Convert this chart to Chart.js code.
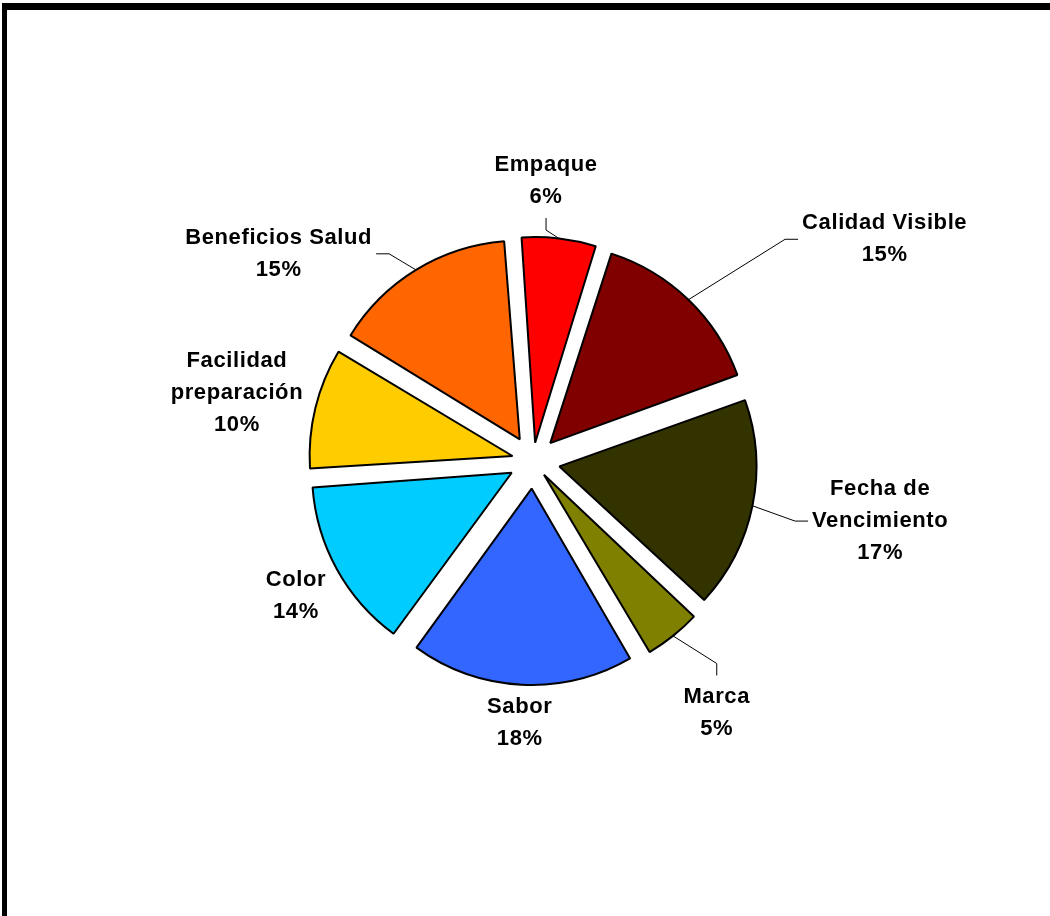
<!DOCTYPE html>
<html>
<head>
<meta charset="utf-8">
<script src="https://cdn.jsdelivr.net/npm/chart.js@4.4.1/dist/chart.umd.min.js"></script>
<style>
  html, body { margin: 0; padding: 0; background: #fff; overflow: hidden; }
  #frame { position: absolute; left: 2px; top: 3px; width: 1100px; height: 1000px; border-top: 7px solid #000; border-left: 5px solid #000; }
  #chart { position: absolute; left: 0; top: 0; }
</style>
</head>
<body>
<div id="frame"></div>
<canvas id="chart" width="1050" height="916"></canvas>
<script>
  // categorias y porcentajes
  const categories = ['Empaque', 'Calidad Visible', 'Fecha de Vencimiento', 'Marca', 'Sabor', 'Color', 'Facilidad preparación', 'Beneficios Salud'];
  const values = [6.1, 14.6, 17.4, 4.7, 18.4, 13.9, 9.8, 15.1];

  const palette = ['#ff0000', '#800000', '#333300', '#808000', '#3366ff', '#00ccff', '#ffcc00', '#ff6600'];
  const explode = 30; // separacion de cada porcion (px)

  // Chart.js divide el offset por 4 y le suma un ajuste segun el angulo,
  // asi que lo compensamos para que todas las porciones se separen igual
  function sliceOffset(c) {
    const data = c.dataset.data;
    const total = data.reduce((a, b) => a + b, 0);
    const circ = data[c.dataIndex] / total * Math.PI * 2;
    const fix = 1 - Math.sin(Math.min(Math.PI, circ));
    return 4 * explode / (1 + fix);
  }

  // parte el texto en lineas si es muy ancho
  function wrap(ctx, text, maxW) {
    const words = text.split(' ');
    const lines = [];
    let cur = '';
    words.forEach(wd => {
      const test = cur ? cur + ' ' + wd : wd;
      if (cur && ctx.measureText(test).width > maxW) {
        lines.push(cur);
        cur = wd;
      } else {
        cur = test;
      }
    });
    if (cur) lines.push(cur);
    return lines;
  }

  // etiquetas afuera con lineas guia (como en Excel)
  const outsideLabels = {
    id: 'outsideLabels',
    afterDatasetsDraw(chart, args, opts) {
      const ctx = chart.ctx;
      const meta = chart.getDatasetMeta(0);
      const data = chart.data.datasets[0].data;
      const total = data.reduce((a, b) => a + b, 0);
      ctx.save();
      ctx.font = opts.font;
      ctx.letterSpacing = opts.letterSpacing;
      ctx.fillStyle = '#000';
      ctx.strokeStyle = '#000';
      ctx.lineWidth = 1;
      ctx.textAlign = 'center';
      ctx.textBaseline = 'middle';
      meta.data.forEach((arc, i) => {
        const lines = wrap(ctx, chart.data.labels[i], opts.wrapWidth);
        lines.push(Math.round(data[i] / total * 100) + '%');
        const w = Math.max(...lines.map(l => ctx.measureText(l).width)) / 2;
        const h = lines.length * opts.lineHeight / 2;
        const mid = (arc.startAngle + arc.endAngle) / 2;
        const ux = Math.cos(mid), uy = Math.sin(mid);
        const rOut = arc.outerRadius + explode;
        const d = rOut + opts.gap + Math.abs(ux) * w + Math.abs(uy) * h;
        const s = opts.shift[i] || [0, 0];
        const cx = arc.x + ux * d + s[0];
        const cy = arc.y + uy * d + s[1];
        lines.forEach((l, k) => ctx.fillText(l, cx, cy - h + opts.lineHeight * (k + 0.5)));

        if (Math.hypot(s[0], s[1]) > 10) {
          const px = arc.x + ux * rOut, py = arc.y + uy * rOut;
          const ex = Math.abs(px - cx) - w, ey = Math.abs(py - cy) - h;
          let ax, ay, bx, by;
          if (ex > ey) {
            const sg = Math.sign(px - cx);
            ax = cx + sg * (w + 4); ay = cy;
            bx = ax + sg * 13; by = ay;
          } else {
            const sg = Math.sign(py - cy);
            ax = cx; ay = cy + sg * (h + 5);
            bx = ax; by = ay + sg * 12;
          }
          ctx.beginPath();
          ctx.moveTo(ax, ay);
          ctx.lineTo(bx, by);
          ctx.lineTo(px, py);
          ctx.stroke();
        }
      });
      ctx.restore();
    }
  };

  new Chart(document.getElementById('chart'), {
    type: 'pie',
    data: {
      labels: categories,
      datasets: [{
        data: values,
        backgroundColor: palette,
        borderColor: '#000000',
        borderWidth: 2,
        offset: sliceOffset
      }]
    },
    options: {
      responsive: false,
      animation: false,
      events: [],
      rotation: -4.3,
      radius: 194,
      layout: { padding: { left: 16, right: 0, top: 6, bottom: 0 } },
      plugins: {
        legend: { display: false },
        tooltip: { enabled: false },
        outsideLabels: {
          font: 'bold 22px "Liberation Sans", Arial, sans-serif',
          letterSpacing: '0.6px',
          lineHeight: 32,
          wrapWidth: 200,
          gap: 5,
          shift: [[-18, -15], [137, 1], [48, -1], [12, 37], [0, 0], [0, 4], [0, 4], [-95, 53]]
        }
      }
    },
    plugins: [outsideLabels]
  });
</script>
</body>
</html>
